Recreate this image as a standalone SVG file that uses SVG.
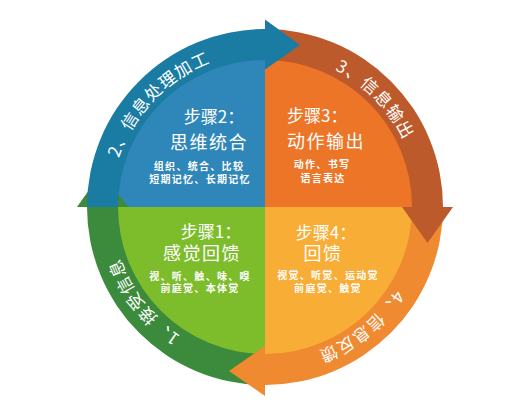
<svg xmlns="http://www.w3.org/2000/svg" width="524" height="413" viewBox="0 0 524 413">
<defs>
<style>
text{font-family:"Noto Sans CJK SC","Noto Sans",sans-serif;fill:#fff}
.t1{font-size:17px}
.t2{font-size:18px;letter-spacing:1.5px}
.s{font-size:10px;font-weight:bold;letter-spacing:1.3px}
.ring{font-size:17px;letter-spacing:2px;dominant-baseline:central}
</style>
<path id="pb" d="M103,207 A162,162 0 0 1 265,45"/>
<path id="po" d="M265,45 A162,162 0 0 1 427,207"/>
<path id="py" d="M427,207 A162,162 0 0 1 265,369"/>
<path id="pg" d="M265,369 A162,162 0 0 1 103,207"/>
</defs>
<rect width="524" height="413" fill="#fff"/>
<g id="quadrants">
<path d="M265,207 L116,207 A149,149 0 0 1 265,58 Z" fill="#2f87b9"/>
<path d="M265,207 L265,58 A149,149 0 0 1 414,207 Z" fill="#ed7527"/>
<path d="M265,207 L414,207 A149,149 0 0 1 265,356 Z" fill="#f8ad36"/>
<path d="M265,207 L265,356 A149,149 0 0 1 116,207 Z" fill="#7dbd2c"/>
</g>
<g id="connectors">
<path d="M265,385 A178,178 0 0 1 87,207 L118,207 A147,147 0 0 0 265,354 Z" fill="#3c8a3b"/>
<polygon points="77,207 128,207 102.5,171" fill="#3c8a3b"/>
<path d="M87,207 A178,178 0 0 1 265,29 L265,60 A147,147 0 0 0 118,207 Z" fill="#1a7ba3"/>
<path d="M265,29 A178,178 0 0 1 443,207 L412,207 A147,147 0 0 0 265,60 Z" fill="#bd5a2b"/>
<polygon points="265,19.5 265,69.5 300,45" fill="#1a7ba3"/>
<path d="M443,207 A178,178 0 0 1 265,385 L265,354 A147,147 0 0 0 412,207 Z" fill="#f08a31"/>
<polygon points="402,207 453,207 427.5,243" fill="#bd5a2b"/>
<polygon points="265,346 265,396 229,371" fill="#f08a31"/>
</g>
<g id="ring-labels">
<text class="ring"><textPath href="#pb" startOffset="49%" text-anchor="middle">2、信息处理加工</textPath></text>
<text class="ring"><textPath href="#po" startOffset="51%" text-anchor="middle">3、信息输出</textPath></text>
<text class="ring"><textPath href="#py" startOffset="57%" text-anchor="middle">4、信息反馈</textPath></text>
<text class="ring"><textPath href="#pg" startOffset="58%" text-anchor="middle">1、接受信息</textPath></text>
</g>
<g id="step2">
<text class="t1" x="214" y="123" text-anchor="middle">步骤2：</text>
<text class="t2" x="209" y="149" text-anchor="middle">思维统合</text>
<text class="s" x="199" y="170" text-anchor="middle">组织、统合、比较</text>
<text class="s" x="200" y="183" text-anchor="middle">短期记忆、长期记忆</text>
</g>
<g id="step3">
<text class="t1" x="287" y="122">步骤3：</text>
<text class="t2" x="287" y="148">动作输出</text>
<text class="s" x="322" y="168" text-anchor="middle">动作、书写</text>
<text class="s" x="323" y="182" text-anchor="middle">语言表达</text>
</g>
<g id="step1">
<text class="t1" x="211" y="238" text-anchor="middle">步骤1：</text>
<text class="t2" x="202" y="260" text-anchor="middle">感觉回馈</text>
<text class="s" x="200" y="280" text-anchor="middle">视、听、触、味、嗅</text>
<text class="s" x="200" y="292" text-anchor="middle">前庭觉、本体觉</text>
</g>
<g id="step4">
<text class="t1" x="326" y="239" text-anchor="middle">步骤4：</text>
<text class="t2" x="323" y="260" text-anchor="middle">回馈</text>
<text class="s" x="328" y="279" text-anchor="middle">视觉、听觉、运动觉</text>
<text class="s" x="328" y="292" text-anchor="middle">前庭觉、触觉</text>
</g>
</svg>
